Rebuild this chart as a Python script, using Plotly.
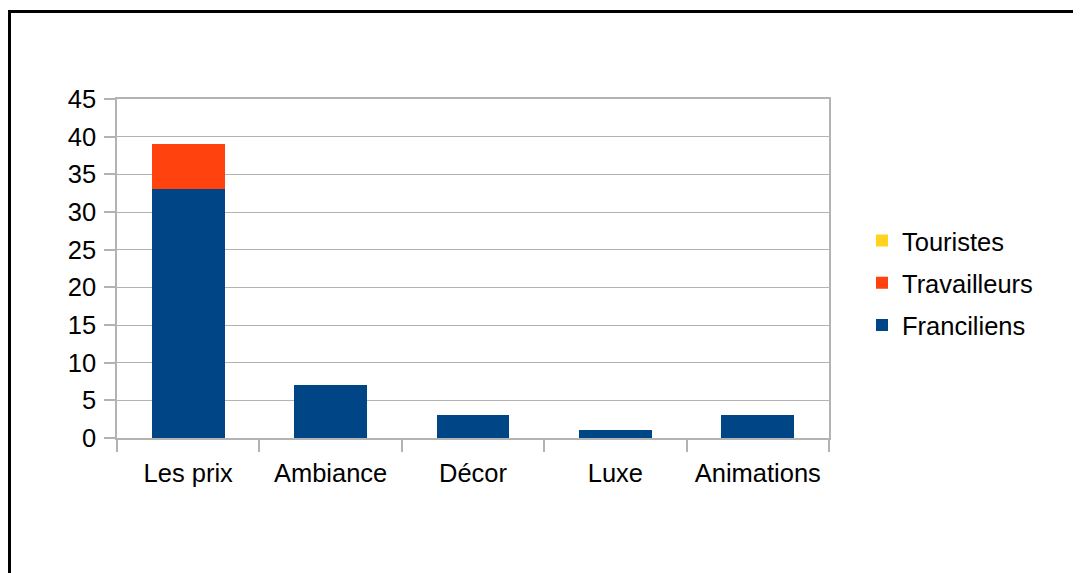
import plotly.graph_objects as go

categories = ["Les prix", "Ambiance", "Décor", "Luxe", "Animations"]
franciliens = [33, 7, 3, 1, 3]
travailleurs = [6, 0, 0, 0, 0]
touristes = [0, 0, 0, 0, 0]
y_ticks = [0, 5, 10, 15, 20, 25, 30, 35, 40, 45]

# the page body has an 8px margin, so work in figure coordinates (page - 8)
OFF = 8
W, H = 1081 - OFF, 573 - OFF
PX0, PX1 = 117 - OFF, 829 - OFF      # plot area left / right (figure px)
PY0, PY1 = 99 - OFF, 438 - OFF       # plot area top / bottom (figure px)
L, R, T, B = PX0, W - PX1, PY0, H - PY1
pw, ph = PX1 - PX0, PY1 - PY0

def px_x(x):
    return (x - PX0) / pw

def px_y(y):
    return (PY1 - y) / ph

font = dict(family="Liberation Sans, Arial, sans-serif", size=25.5, color="black")

fig = go.Figure()
fig.add_trace(go.Bar(x=categories, y=franciliens, name="Franciliens", legendrank=3,
                     marker=dict(color="#004586", line=dict(width=0)), legendgroup="a"))
fig.add_trace(go.Bar(x=categories, y=travailleurs, name="Travailleurs", legendrank=2,
                     marker=dict(color="#FF420E", line=dict(width=0)), legendgroup="b"))
fig.add_trace(go.Bar(x=categories, y=touristes, name="Touristes", legendrank=1,
                     marker=dict(color="#FFD320", line=dict(width=0)), legendgroup="c"))

fig.update_layout(
    width=W, height=H,
    margin=dict(l=L, r=R, t=T, b=B, autoexpand=False),
    barmode="stack", bargap=0.49,
    plot_bgcolor="white", paper_bgcolor="white",
    font=font,
    showlegend=True,
    legend=dict(x=px_x(854), y=px_y(283 - OFF), xanchor="left", yanchor="middle",
                traceorder="grouped", tracegroupgap=6,
                font=font, bgcolor="rgba(0,0,0,0)"),
    xaxis=dict(showgrid=False, showline=True, linecolor="#b3b3b3", linewidth=1.5,
               mirror=True, ticks="outside", tickson="boundaries", ticklen=12,
               tickcolor="#b3b3b3", tickwidth=1.5, tickfont=font,
               ticklabelstandoff=12),
    yaxis=dict(range=[0, 45], tickvals=y_ticks, showgrid=True, gridcolor="#b3b3b3",
               gridwidth=1, showline=True, linecolor="#b3b3b3", linewidth=1.5,
               mirror=True, ticks="outside", ticklen=11, tickcolor="#b3b3b3",
               tickwidth=1.5, tickfont=font, zeroline=False,
               ticklabelstandoff=3),
    shapes=[dict(type="rect", xref="paper", yref="paper",
                 x0=px_x(1.5), y0=px_y(3.5), x1=px_x(W + 20), y1=px_y(H + 20),
                 line=dict(color="black", width=3), fillcolor="rgba(0,0,0,0)",
                 layer="above")],
)

fig.write_html("out.html")
